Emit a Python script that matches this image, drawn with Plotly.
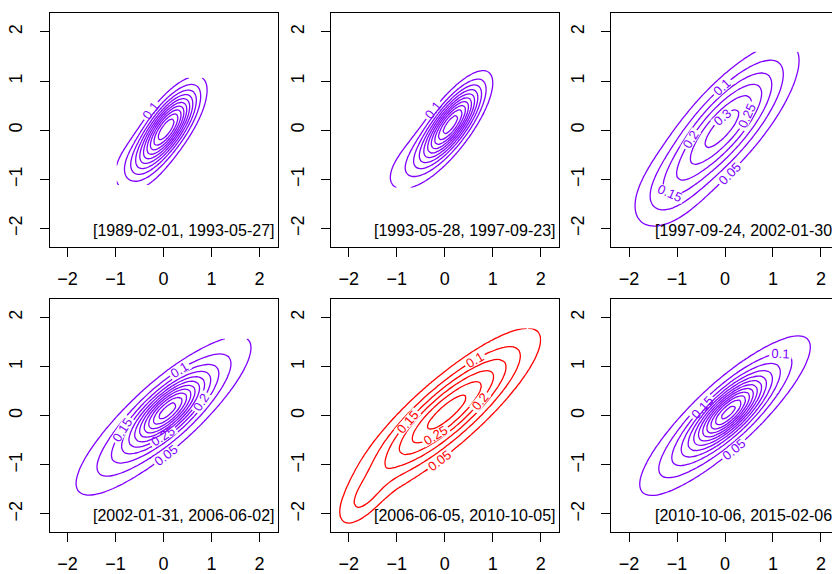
import numpy as np
import plotly.graph_objects as go

# ---------------- data ----------------
PERIODS = [
    "[1989-02-01, 1993-05-27]",
    "[1993-05-28, 1997-09-23]",
    "[1997-09-24, 2002-01-30]",
    "[2002-01-31, 2006-06-02]",
    "[2006-06-05, 2010-10-05]",
    "[2010-10-06, 2015-02-06]",
]
LINE_COLORS = ["#8000FF", "#8000FF", "#8000FF", "#8000FF", "#FF0000", "#8000FF"]
LEVEL_STEPS = [0.1, 0.1, 0.05, 0.05, 0.05, 0.05]
LABELLED_UP_TO = [0.1, 0.1, 0.3, 0.25, 0.25, 0.15]   # levels that carry a label

# extent of the density grid (range of the observations) per panel
GRID_X_MIN = [-0.98, -1.20, -1.97, -1.95, -2.30, -1.90]
GRID_X_MAX = [0.98, 1.03, 1.57, 1.97, 2.02, 1.97]
GRID_Y_MIN = [-1.12, -1.17, -2.02, -1.82, -2.25, -1.73]
GRID_Y_MAX = [1.07, 1.23, 1.60, 1.57, 1.78, 1.73]

# bivariate-normal mixture components describing each panel's density
COMP_PANEL = [0, 0, 1, 1, 2, 2, 3, 3, 4, 4, 4, 5, 5]
COMP_WEIGHT = [0.86, 0.14, 0.82, 0.18, 0.92, 0.08, 0.25, 0.75, 0.70, 0.26, 0.04, 0.25, 0.75]
COMP_MX = [0.07, -0.55, 0.14, -0.65, -0.05, -1.20, 0.10, 0.00, 0.05, -0.10, -1.70, 0.08, 0.00]
COMP_MY = [0.04, -0.72, 0.14, -0.65, 0.05, -1.30, 0.12, 0.00, 0.08, -0.10, -1.70, 0.08, 0.00]
COMP_SU = [0.58, 0.45, 0.60, 0.62, 1.15, 0.60, 0.55, 1.30, 1.20, 2.00, 0.45, 0.55, 1.25]
COMP_SV = [0.22, 0.32, 0.21, 0.30, 0.39, 0.40, 0.22, 0.36, 0.33, 0.45, 0.20, 0.21, 0.34]
COMP_ANGLE = [54, 45, 53, 45, 48, 45, 42, 41, 40, 43, 50, 43, 42]

TICKS = [-2, -1, 0, 1, 2]

# ---------------- layout geometry ----------------
W, H = 832, 574
COL_LEFT = [49.5, 330.7, 611.0]
PANEL_W = 228.0
ROW_TOP = [13.5, 300.0]
PANEL_H = 234.3
AX_LIM = 2.376
PX_PER_UNIT = PANEL_W / (2 * AX_LIM)

FONT = "Liberation Sans, Arial, Helvetica, sans-serif"


def density(p, X, Y):
    Z = np.zeros_like(X)
    for k, pan in enumerate(COMP_PANEL):
        if pan != p:
            continue
        th = np.deg2rad(COMP_ANGLE[k])
        dx = X - COMP_MX[k]
        dy = Y - COMP_MY[k]
        u = dx * np.cos(th) + dy * np.sin(th)
        v = -dx * np.sin(th) + dy * np.cos(th)
        su, sv = COMP_SU[k], COMP_SV[k]
        Z += COMP_WEIGHT[k] / (2 * np.pi * su * sv) * np.exp(-0.5 * (u**2 / su**2 + v**2 / sv**2))
    return Z


def contour_trace(xs, ys, Z, idx, col, start, end, size, labels):
    return go.Contour(
        x=xs, y=ys, z=Z,
        xaxis="x" + idx, yaxis="y" + idx,
        colorscale=[[0, col], [1, col]],
        showscale=False, autocontour=False,
        contours=dict(coloring="lines", start=start, end=end, size=size,
                      showlabels=labels, labelformat=".2~f",
                      labelfont=dict(size=13, color=col, family=FONT)),
        line=dict(width=1.3),
        hoverinfo="skip",
    )


fig = go.Figure()
annotations = []
for p in range(6):
    r, c = divmod(p, 3)
    idx = "" if p == 0 else str(p + 1)
    xs = np.linspace(GRID_X_MIN[p], GRID_X_MAX[p], 45)
    ys = np.linspace(GRID_Y_MIN[p], GRID_Y_MAX[p], 45)
    X, Y = np.meshgrid(xs, ys)
    Z = density(p, X, Y)
    col = LINE_COLORS[p]
    step = LEVEL_STEPS[p]
    lab_max = LABELLED_UP_TO[p]
    # labelled levels
    fig.add_trace(contour_trace(xs, ys, Z, idx, col, step, lab_max + step * 0.4, step, True))
    # remaining (unlabelled) levels
    if Z.max() > lab_max + step:
        fig.add_trace(contour_trace(xs, ys, Z, idx, col, lab_max + step, step * 40, step, False))

    left = COL_LEFT[c]
    right = left + PANEL_W
    top = ROW_TOP[r]
    bottom = top + PANEL_H
    xdom = [left / W, min(right / W, 1.0)]
    ydom = [1 - bottom / H, 1 - top / H]
    xmax_vis = -AX_LIM + (xdom[1] * W - left) / PX_PER_UNIT
    axis_common = dict(
        showgrid=False, zeroline=False, showline=True, linecolor="black", linewidth=1,
        ticks="outside", ticklen=9, tickwidth=1, tickcolor="black",
        tickvals=TICKS, tickfont=dict(size=18, color="black", family=FONT),
    )
    fig.layout["xaxis" + idx] = dict(
        axis_common, domain=xdom, range=[-AX_LIM, xmax_vis],
        anchor="y" + idx, mirror=True, ticklabelstandoff=6,
    )
    fig.layout["yaxis" + idx] = dict(
        axis_common, domain=ydom, range=[-AX_LIM, AX_LIM],
        anchor="x" + idx, mirror=(c < 2), tickangle=-90, ticklabelstandoff=10,
    )
    annotations.append(dict(
        text=PERIODS[p], xref="paper", yref="paper",
        x=(right - 1.5) / W, y=1 - (bottom - 6) / H,
        xanchor="right", yanchor="bottom", showarrow=False,
        font=dict(size=16, color="black", family=FONT),
    ))

fig.update_layout(
    width=W, height=H, autosize=False,
    margin=dict(l=0, r=0, t=0, b=0),
    paper_bgcolor="white", plot_bgcolor="white",
    showlegend=False, annotations=annotations,
)
fig.write_html(
    "out.html",
    config={"displayModeBar": False, "staticPlot": True},
    post_script="document.body.style.margin='0';document.body.style.overflow='hidden';",
)
